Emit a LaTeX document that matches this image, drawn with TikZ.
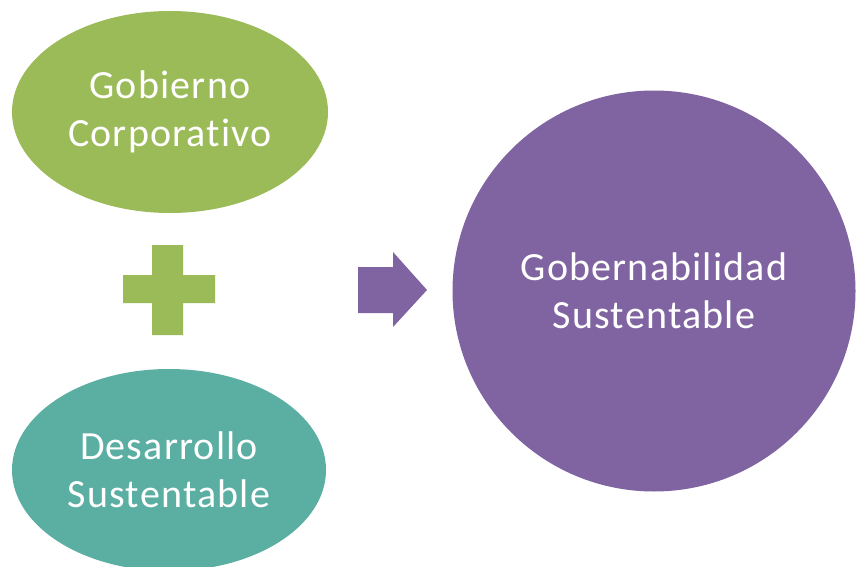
\documentclass[tikz,border=0pt]{standalone}
\usepackage{fontspec}
\setmainfont{Carlito}[Ligatures=NoCommon, LetterSpace=3]
\usetikzlibrary{shapes.geometric}
\definecolor{cgreen}{HTML}{9BBB59}
\definecolor{cteal}{HTML}{5AAEA2}
\definecolor{cpurple}{HTML}{8064A2}
\tikzset{
  blob/.style={ellipse, inner sep=0pt, text=white, align=center,
    font=\fontsize{40}{48}\selectfont},
}
\begin{document}
\begin{tikzpicture}[x=1pt,y=-1pt]
\useasboundingbox (0,0) rectangle (856,567);
\node[blob, fill=cgreen, minimum width=316pt, minimum height=202pt] (gc) at (170,112) {Gobierno\\Corporativo};
\node[blob, fill=cteal, minimum width=314pt, minimum height=202pt] (ds) at (169,470) {Desarrollo\\Sustentable};
\node[blob, fill=cpurple, minimum width=403pt, minimum height=401pt] (gs) at (654,291) {Gobernabilidad\\Sustentable};
% plus sign
\fill[cgreen] (152,245) -- (183,245) -- (183,275) -- (215,275) -- (215,303) -- (183,303) -- (183,335) -- (152,335) -- (152,303) -- (123,303) -- (123,275) -- (152,275) -- cycle;
% arrow
\fill[cpurple] (358,267) -- (393,267) -- (393,252) -- (427,290) -- (393,327) -- (393,313) -- (358,313) -- cycle;
\end{tikzpicture}
\end{document}
